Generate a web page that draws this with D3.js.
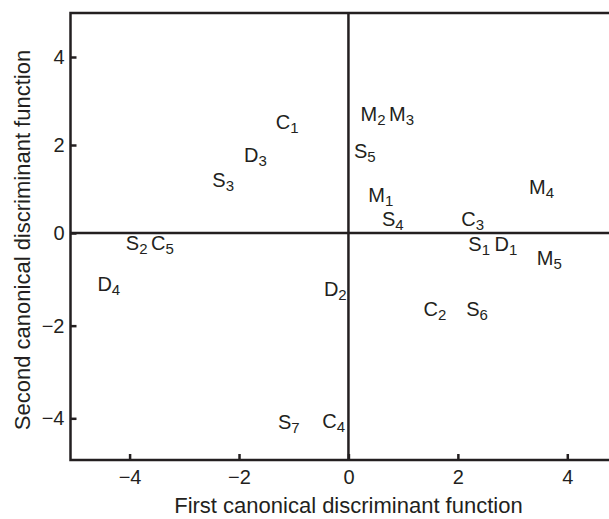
<!DOCTYPE html>
<html lang="en">
<head>
    <meta charset="UTF-8">
    <title>Canonical discriminant functions</title>
    <style>
        body { margin: 0; background: #fff; }
        svg { display: block; font-family: "Liberation Sans", Arial, sans-serif; }
        .axis path { display: none; }
        .axis line { stroke: #231f20; stroke-width: 2.5; }
        .axis text { fill: #231f20; font-size: 20px; }
    </style>
</head>
<body>
    <svg width="609" height="519"></svg>

    <script src="https://d3js.org/d3.v7.min.js"></script>
    <script>
        // sample labels (letter + subscript) and their scores on the two functions
        const letters = ["C", "D", "S", "S", "C", "M", "M", "S", "M", "S", "C", "M", "S", "D", "M", "D", "C", "S", "C", "D", "S"];
        const subs    = ["1", "3", "3", "2", "5", "2", "3", "5", "1", "4", "3", "4", "1", "1", "5", "2", "2", "6", "4", "4", "7"];
        const first   = [-1.12, -1.70, -2.29, -3.87, -3.40, 0.45, 0.97, 0.30, 0.59, 0.81, 2.27, 3.53, 2.39, 2.88, 3.67, -0.24, 1.58, 2.35, -0.27, -4.38, -1.09];
        const second  = [2.53, 1.78, 1.20, -0.22, -0.22, 2.70, 2.70, 1.86, 0.86, 0.31, 0.31, 1.05, -0.24, -0.24, -0.55, -1.21, -1.63, -1.63, -4.05, -1.10, -4.08];
        const tickVals = [-4, -2, 0, 2, 4];

        const ink = "#231f20";
        const svg = d3.select("svg");

        const x = d3.scaleLinear().domain([-5.08, 5]).range([70.5, 622]);
        // scanned figure: slightly different scale above and below zero
        const y = d3.scaleLinear().domain([-4.9, 0, 5]).range([460, 233, 13]);

        const g = svg.append("g");

        // frame
        g.append("rect")
            .attr("x", x(-5.08))
            .attr("y", y(5))
            .attr("width", x(5) - x(-5.08))
            .attr("height", y(-4.9) - y(5))
            .attr("fill", "none")
            .attr("stroke", ink)
            .attr("stroke-width", 2.5);

        // zero lines
        g.append("line")
            .attr("x1", x(-5.08)).attr("x2", x(5))
            .attr("y1", y(0)).attr("y2", y(0))
            .attr("stroke", ink).attr("stroke-width", 2.5);
        g.append("line")
            .attr("x1", x(0)).attr("x2", x(0))
            .attr("y1", y(5)).attr("y2", y(-4.9))
            .attr("stroke", ink).attr("stroke-width", 2.5);

        g.append("g")
            .attr("class", "axis")
            .attr("transform", `translate(0,${y(-4.9)})`)
            .call(d3.axisBottom(x).tickValues(tickVals).tickSize(-6).tickPadding(10));

        g.append("g")
            .attr("class", "axis")
            .attr("transform", `translate(${x(-5.08)},0)`)
            .call(d3.axisLeft(y).tickValues(tickVals).tickSize(-6).tickPadding(6));

        // point labels
        const pts = letters.map((l, i) => ({ l: l, s: subs[i], x: first[i], y: second[i] }));
        const lab = g.selectAll("text.pt")
            .data(pts)
            .enter().append("text")
            .attr("class", "pt")
            .attr("x", d => x(d.x))
            .attr("y", d => y(d.y) + 7)
            .attr("text-anchor", "middle")
            .attr("fill", ink)
            .style("font-size", "20px");
        lab.append("tspan").text(d => d.l);
        lab.append("tspan")
            .attr("dy", 4)
            .style("font-size", "15px")
            .text(d => d.s);

        // axis titles
        svg.append("text")
            .attr("x", x(0))
            .attr("y", 513)
            .attr("text-anchor", "middle")
            .attr("fill", ink)
            .style("font-size", "22px")
            .text("First canonical discriminant function");

        svg.append("text")
            .attr("transform", "translate(30,240) rotate(-90)")
            .attr("text-anchor", "middle")
            .attr("fill", ink)
            .style("font-size", "22px")
            .text("Second canonical discriminant function");
    </script>
</body>
</html>
